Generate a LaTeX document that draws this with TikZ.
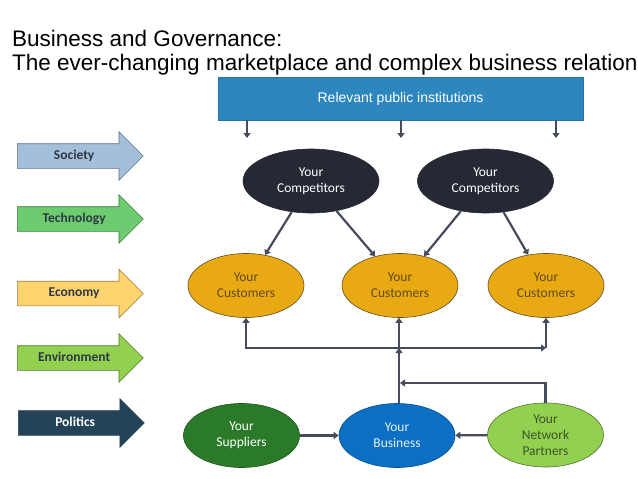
\documentclass[tikz,border=0pt]{standalone}
\usepackage{fontspec}
\setmainfont{Liberation Sans}
\newfontfamily\calibri{Carlito}
\usepackage{tikz}
\usetikzlibrary{positioning,arrows.meta,calc,shapes.geometric,shapes.arrows}
\definecolor{inst}{RGB}{46,134,191}
\definecolor{comp}{RGB}{38,40,51}
\definecolor{cust}{RGB}{232,169,19}
\definecolor{custtext}{RGB}{96,76,28}
\definecolor{biz}{RGB}{11,111,196}
\definecolor{supp}{RGB}{42,122,42}
\definecolor{netw}{RGB}{146,208,80}
\definecolor{netwtext}{RGB}{62,84,40}
\definecolor{link}{RGB}{72,75,92}
\definecolor{soc}{RGB}{163,191,217}
\definecolor{tech}{RGB}{110,204,112}
\definecolor{econ}{RGB}{255,211,110}
\definecolor{envi}{RGB}{146,208,80}
\definecolor{poli}{RGB}{37,67,88}
\definecolor{force}{RGB}{46,56,70}

\begin{document}
\begin{tikzpicture}[x=1pt, y=-1pt,
  flow/.style={draw=link, line width=2.2pt, -{Triangle[length=5pt,width=7pt]}},
  actor/.style={ellipse, draw, line width=0.6pt, inner sep=0pt, minimum width=116pt,
    minimum height=64pt, align=center, font=\calibri\fontsize{13.5}{16}\selectfont},
  forcebox/.style={single arrow, draw, line width=0.6pt, anchor=tail, minimum height=126pt,
    single arrow head extend=12pt, text height=9pt, text depth=3pt, inner ysep=6pt,
    font=\calibri\bfseries\fontsize{13.5}{15}\selectfont, text=force}]
  \useasboundingbox (0,0) rectangle (638,479);
  \clip (0,0) rectangle (638,479);

  % title
  \node[anchor=base west, font=\fontsize{22.5}{24}\selectfont, inner sep=0pt] (title1) at (12,46)
    {Business and Governance:};
  \node[anchor=base west, font=\fontsize{22.5}{24}\selectfont, inner sep=0pt] (title2) at (12,70)
    {The ever-changing marketplace and complex business relationships};

  % public institutions
  \node[fill=inst, draw=inst!85!black, minimum width=365pt, minimum height=43pt, text=white,
    font=\fontsize{14}{16}\selectfont] (inst) at (400.5,98.5) {Relevant public institutions};
  \coordinate (d1) at (247,138);
  \coordinate (d2) at (401,138);
  \coordinate (d3) at (556,138);
  \foreach \d in {d1,d2,d3}
    \draw[flow] (inst.south -| \d) -- (\d);

  % outside forces
  \node[forcebox, fill=soc, draw=soc!60!black] (society) at (17,156) {Society};
  \node[forcebox, fill=tech, draw=tech!60!black] (technology) at (17,219) {Technology};
  \node[forcebox, fill=econ, draw=econ!60!black] (economy) at (17,293.5) {Economy};
  \node[forcebox, fill=envi, draw=envi!60!black] (environment) at (17,358) {Environment};
  \node[forcebox, fill=poli, draw=poli, text=white] (politics) at (18,423) {Politics};

  % market
  \node[actor, fill=comp, draw=comp, text=white, minimum width=136pt] (compL) at (311,181) {Your\\Competitors};
  \node[actor, fill=comp, draw=comp, text=white, minimum width=136pt] (compR) at (485.5,181) {Your\\Competitors};
  \node[actor, fill=cust, draw=custtext, text=custtext] (custL) at (246,285.5) {Your\\Customers};
  \node[actor, fill=cust, draw=custtext, text=custtext] (custM) at (400,285.5) {Your\\Customers};
  \node[actor, fill=cust, draw=custtext, text=custtext] (custR) at (546,285.5) {Your\\Customers};
  \node[actor, fill=supp, draw=supp!70!black, text=white] (supp) at (241.5,435.5) {Your\\Suppliers};
  \node[actor, fill=biz, draw=biz!70!black, text=white!90!biz] (biz) at (397,435.5) {Your\\Business};
  \node[actor, fill=netw, draw=netw!55!black, text=netwtext] (netw) at (545.5,435) {Your\\Network\\Partners};

  \draw[flow] (compL) -- (custL);
  \draw[flow] (compL) -- (custM);
  \draw[flow] (compR) -- (custM);
  \draw[flow] (compR) -- (custR);

  \coordinate (hub) at (399,348);
  \coordinate (hubR) at (custR.south |- hub);
  \coordinate (join) at (400,383);
  \draw[flow] (biz.north -| hub) -- (hub);
  \draw[flow] (hub) -- (custM.south -| hub);
  \draw[flow] (hub) -| (custL.south);
  \draw[flow] (hub) -- (hubR);
  \draw[flow] (hubR) -- (custR.south);
  \draw[flow] (netw.north) |- (join);
  \draw[flow] (supp) -- (biz);
  \draw[flow] (netw) -- (biz);
\end{tikzpicture}
\end{document}
